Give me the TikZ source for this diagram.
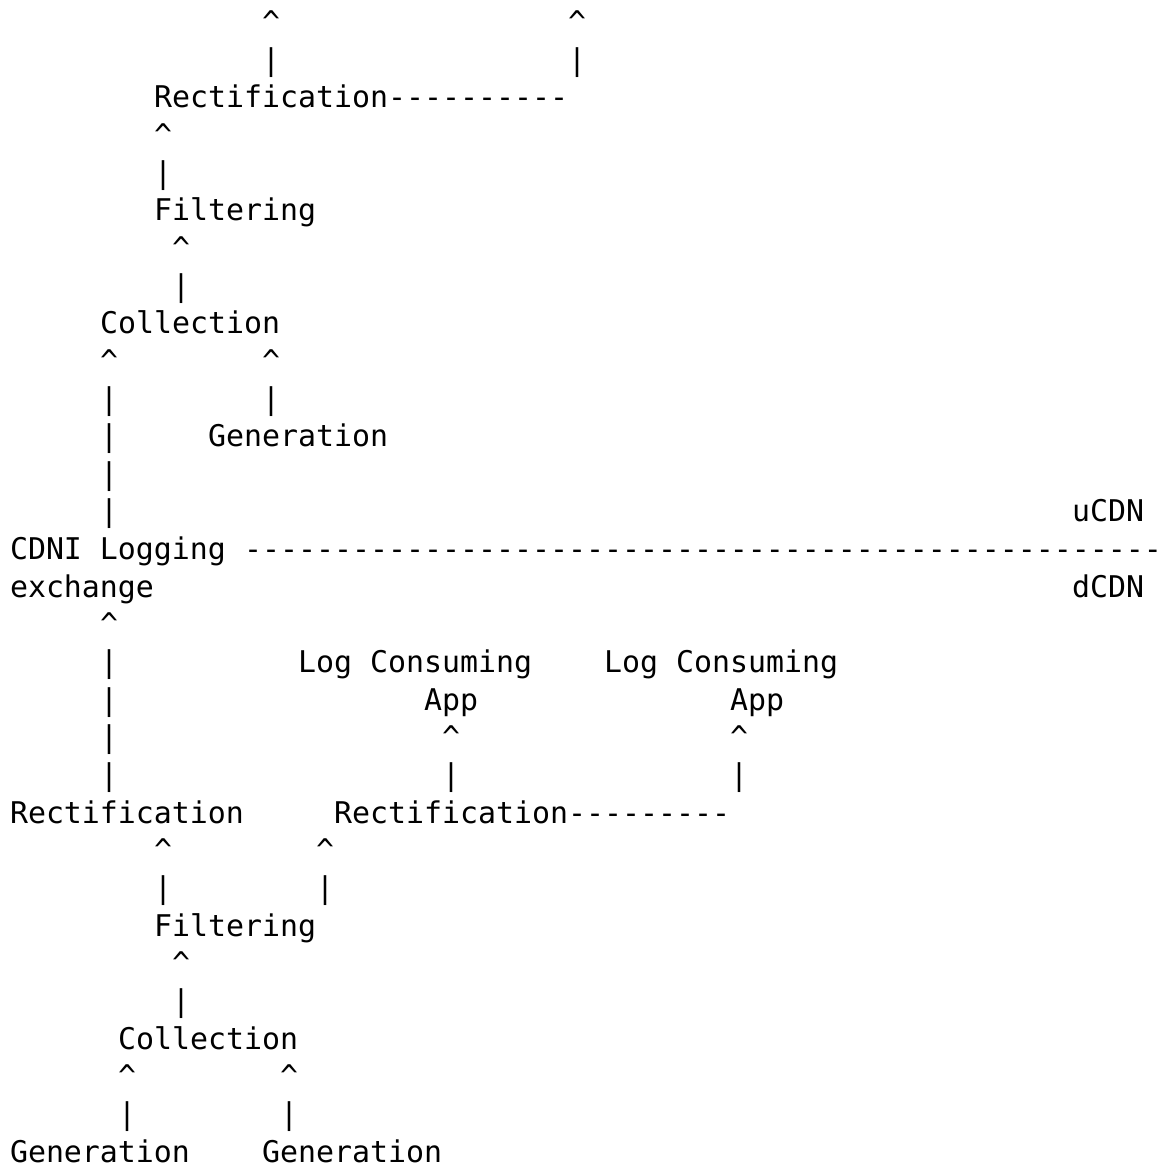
\documentclass[tikz,border=0pt]{standalone}
\usepackage{fontspec}
\setmonofont{DejaVu Sans Mono}
\tikzset{
  x=1pt, y=-1pt,
  txt/.style={inner sep=0pt, outer sep=0pt, anchor=base west,
    font=\ttfamily\fontsize{29.9}{37.65}\selectfont, text=black}
}
% column/row placement on the character grid
\newcommand\putcell[4]{\node[txt] (#1) at ({10+18*#2},{32.5+37.65*(#3-1)}) {#4};}
\newcommand\mycaret{\textasciicircum}
\newcommand\myvbar{\textbar}
\begin{document}
\begin{tikzpicture}
\useasboundingbox (0,0) rectangle (1160,1169);
% ---- uCDN side ----
\putcell{ua1}{14}{1}{\mycaret}
\putcell{ua2}{31}{1}{\mycaret}
\putcell{ub1}{14}{2}{\myvbar}
\putcell{ub2}{31}{2}{\myvbar}
\putcell{rect1}{8}{3}{Rectification}
\putcell{rect1d}{21}{3}{----------}
\putcell{ua3}{8}{4}{\mycaret}
\putcell{ub3}{8}{5}{\myvbar}
\putcell{filt1}{8}{6}{Filtering}
\putcell{ua4}{9}{7}{\mycaret}
\putcell{ub4}{9}{8}{\myvbar}
\putcell{coll1}{5}{9}{Collection}
\putcell{ua5}{5}{10}{\mycaret}
\putcell{ua6}{14}{10}{\mycaret}
\putcell{ub5}{5}{11}{\myvbar}
\putcell{ub6}{14}{11}{\myvbar}
\putcell{ub7}{5}{12}{\myvbar}
\putcell{gen1}{11}{12}{Generation}
\putcell{ub8}{5}{13}{\myvbar}
\putcell{ub9}{5}{14}{\myvbar}
\putcell{ucdn}{59}{14}{uCDN}
% ---- boundary ----
\putcell{cdni}{0}{15}{CDNI Logging}
\putcell{bound}{13}{15}{---------------------------------------------------}
\putcell{exch}{0}{16}{exchange}
\putcell{dcdn}{59}{16}{dCDN}
% ---- dCDN side ----
\putcell{da1}{5}{17}{\mycaret}
\putcell{db1}{5}{18}{\myvbar}
\putcell{lc1}{16}{18}{Log Consuming}
\putcell{lc2}{33}{18}{Log Consuming}
\putcell{db2}{5}{19}{\myvbar}
\putcell{app1}{23}{19}{App}
\putcell{app2}{40}{19}{App}
\putcell{db3}{5}{20}{\myvbar}
\putcell{da2}{24}{20}{\mycaret}
\putcell{da3}{40}{20}{\mycaret}
\putcell{db4}{5}{21}{\myvbar}
\putcell{db5}{24}{21}{\myvbar}
\putcell{db6}{40}{21}{\myvbar}
\putcell{rect2}{0}{22}{Rectification}
\putcell{rect3}{18}{22}{Rectification}
\putcell{rect3d}{31}{22}{---------}
\putcell{da4}{8}{23}{\mycaret}
\putcell{da5}{17}{23}{\mycaret}
\putcell{db7}{8}{24}{\myvbar}
\putcell{db8}{17}{24}{\myvbar}
\putcell{filt2}{8}{25}{Filtering}
\putcell{da6}{9}{26}{\mycaret}
\putcell{db9}{9}{27}{\myvbar}
\putcell{coll2}{6}{28}{Collection}
\putcell{da7}{6}{29}{\mycaret}
\putcell{da8}{15}{29}{\mycaret}
\putcell{db10}{6}{30}{\myvbar}
\putcell{db11}{15}{30}{\myvbar}
\putcell{gen2}{0}{31}{Generation}
\putcell{gen3}{14}{31}{Generation}
\end{tikzpicture}
\end{document}
